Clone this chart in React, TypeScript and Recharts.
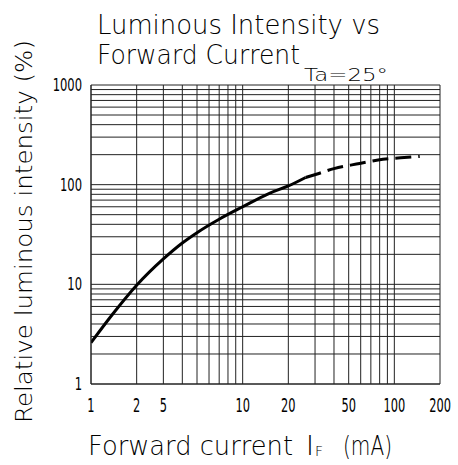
import React from 'react';
import { LineChart, Line, XAxis, YAxis, CartesianGrid } from 'recharts';

// measured part of the curve (solid) and the extrapolated part (dashed)
const solidCurrent = [1, 1.4, 2, 3, 4, 5, 7, 10, 15, 20, 26];
const solidIntensity = [2.6, 5.1, 9.8, 18, 26, 33, 45, 60, 82, 97, 118];
const dashedCurrent = [26, 31, 40, 59, 84, 110, 147];
const dashedIntensity = [118, 128, 145, 163, 180, 186, 192];

// grid lines of the log paper
const xGrid = [1, 2, 3, 4, 5, 6, 7, 8, 9, 10, 20, 30, 40, 50, 60, 70, 80, 90, 100, 200];
const yGrid = [
  1, 2, 3, 4, 5, 6, 7, 8, 9, 10, 20, 30, 40, 50, 60, 70, 80, 90, 100,
  200, 300, 400, 500, 600, 700, 800, 900, 1000,
];

// labelled ticks (the sheet prints "5" on the 3 line)
const xLabelAt = [1, 2, 3, 10, 20, 50, 100, 200];
const xLabels = ['1', '2', '5', '10', '20', '50', '100', '200'];
const yLabelAt = [1, 10, 100, 1000];
const yLabels = ['1', '10', '100', '1000'];

const solidData = solidCurrent.map((x, i) => ({ current: x, intensity: solidIntensity[i] }));
const dashedData = dashedCurrent.map((x, i) => ({ current: x, intensity: dashedIntensity[i] }));

const labelFont = '"DejaVu Sans", "Liberation Sans", sans-serif';

const labelFor = (v: number, at: number[], labels: string[]) => {
  const i = at.indexOf(v);
  return i >= 0 ? labels[i] : '';
};

// narrow digits like the plotter font
const XTick = (props: any) => {
  const { x, y, payload } = props;
  const s = labelFor(payload.value, xLabelAt, xLabels);
  if (!s) return null;
  return (
    <g transform={`translate(${x}, ${y + 12}) scale(0.6, 1)`}>
      <text x={0} y={0} textAnchor="middle" fontFamily={labelFont} fontSize={19} fill="#000">
        {s}
      </text>
    </g>
  );
};

const YTick = (props: any) => {
  const { x, y, payload } = props;
  const s = labelFor(payload.value, yLabelAt, yLabels);
  if (!s) return null;
  return (
    <g transform={`translate(${x}, ${y + 6}) scale(0.64, 1)`}>
      <text x={0} y={0} textAnchor="end" fontFamily={labelFont} fontSize={18} fill="#000">
        {s}
      </text>
    </g>
  );
};

export default function App() {
  return (
    <div style={{ position: 'absolute', left: 0, top: 0, width: 458, height: 465, background: '#fff' }}>
      <LineChart
        width={458}
        height={465}
        margin={{ top: 85, right: 18, bottom: 51, left: 31 }}
      >
        <CartesianGrid stroke="#222" strokeWidth={1} />
        <XAxis
          dataKey="current"
          type="number"
          scale="log"
          domain={[1, 200]}
          allowDataOverflow
          ticks={xGrid}
          interval={0}
          height={30}
          tickSize={0}
          tickMargin={16}
          axisLine={{ stroke: '#222' }}
          tick={<XTick />}
        />
        <YAxis
          dataKey="intensity"
          type="number"
          scale="log"
          domain={[1, 1000]}
          allowDataOverflow
          ticks={yGrid}
          interval={0}
          width={60}
          tickSize={0}
          tickMargin={9}
          axisLine={{ stroke: '#222' }}
          tick={<YTick />}
        />
        <Line
          data={solidData}
          dataKey="intensity"
          type="monotone"
          stroke="#000"
          strokeWidth={3}
          dot={false}
          isAnimationActive={false}
        />
        <Line
          data={dashedData}
          dataKey="intensity"
          type="monotone"
          stroke="#000"
          strokeWidth={3}
          strokeDasharray="16 7"
          dot={false}
          isAnimationActive={false}
        />
      </LineChart>
      <svg
        width={458}
        height={465}
        style={{ position: 'absolute', left: 0, top: 0, pointerEvents: 'none' }}
      >
        <g fontFamily={labelFont} fontWeight={200} fill="#000">
          <text x={97} y={34} fontSize={27} textLength={283} lengthAdjust="spacingAndGlyphs">
            Luminous Intensity vs
          </text>
          <text x={97} y={64} fontSize={27} textLength={203} lengthAdjust="spacingAndGlyphs">
            Forward Current
          </text>
          <text x={304} y={81} fontSize={18} textLength={84} lengthAdjust="spacingAndGlyphs">
            Ta=25°
          </text>
          <text
            transform="translate(32, 423) rotate(-90)"
            x={0}
            y={0}
            fontSize={23}
            textLength={383}
            lengthAdjust="spacingAndGlyphs"
          >
            Relative luminous intensity (%)
          </text>
          <text x={88} y={455} fontSize={27} textLength={205} lengthAdjust="spacingAndGlyphs">
            Forward current
          </text>
          <text x={306} y={455} fontSize={27}>
            I
          </text>
          <text x={315} y={456} fontSize={14}>
            F
          </text>
          <text x={343} y={455} fontSize={27} textLength={49} lengthAdjust="spacingAndGlyphs">
            (mA)
          </text>
        </g>
      </svg>
    </div>
  );
}
